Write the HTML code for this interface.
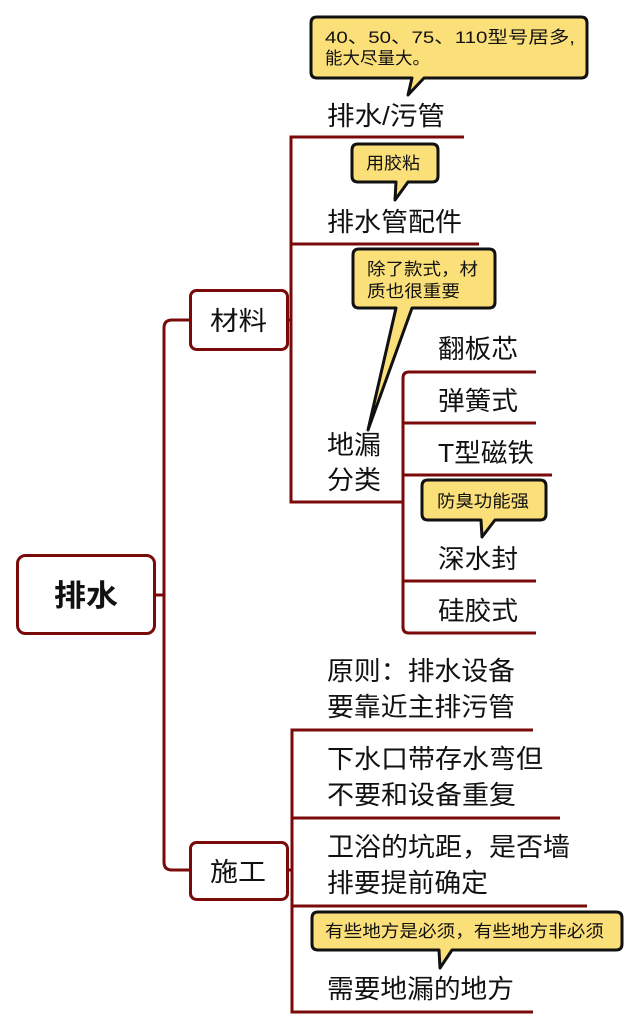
<!DOCTYPE html>
<html><head><meta charset="utf-8"><style>
body{margin:0;background:#fff}
svg{display:block}
text{font-family:"Liberation Sans","Noto Sans CJK SC",sans-serif;fill:#111}
</style></head><body>
<svg width="639" height="1029" viewBox="0 0 639 1029" xmlns="http://www.w3.org/2000/svg">
<g fill="none" stroke="#7a0a0a" stroke-width="3">
<path d="M155 595 H164"/>
<path d="M190 320 H172 Q164 320 164 328 V862 Q164 870 172 870 H190"/>
<path d="M288 320 H291"/>
<path d="M464 137 H291 V502 H403"/>
<path d="M291 244 H479"/>
<path d="M536 372 H409 Q403 372 403 378 V627 Q403 633 409 633 H536"/>
<path d="M403 423 H536"/>
<path d="M403 475 H552"/>
<path d="M403 581 H536"/>
<path d="M288 870 H292"/>
<path d="M533 730 H292 V1012 H533"/>
<path d="M292 818 H560"/>
<path d="M292 906 H587"/>
</g>
<rect x="17.5" y="555.5" width="137" height="78" rx="8" fill="#fff" stroke="#7a0a0a" stroke-width="3"/>
<text x="54" y="606" font-size="30" font-weight="bold" textLength="64" lengthAdjust="spacingAndGlyphs">排水</text>
<rect x="190.5" y="290.5" width="97" height="59" rx="6" fill="#fff" stroke="#7a0a0a" stroke-width="3"/>
<text x="210" y="330" font-size="26" textLength="57" lengthAdjust="spacingAndGlyphs">材料</text>
<rect x="190.5" y="842.5" width="97" height="57" rx="6" fill="#fff" stroke="#7a0a0a" stroke-width="3"/>
<text x="210" y="881" font-size="26" textLength="56" lengthAdjust="spacingAndGlyphs">施工</text>
<g font-size="26">
<text x="327" y="125" textLength="118" lengthAdjust="spacingAndGlyphs">排水/污管</text>
<text x="327" y="231" textLength="135" lengthAdjust="spacingAndGlyphs">排水管配件</text>
<text x="327" y="454" textLength="54" lengthAdjust="spacingAndGlyphs">地漏</text>
<text x="327" y="489" textLength="54" lengthAdjust="spacingAndGlyphs">分类</text>
<text x="438" y="358" textLength="80" lengthAdjust="spacingAndGlyphs">翻板芯</text>
<text x="438" y="410" textLength="80" lengthAdjust="spacingAndGlyphs">弹簧式</text>
<text x="438" y="462" textLength="96" lengthAdjust="spacingAndGlyphs">T型磁铁</text>
<text x="438" y="568" textLength="80" lengthAdjust="spacingAndGlyphs">深水封</text>
<text x="438" y="620" textLength="80" lengthAdjust="spacingAndGlyphs">硅胶式</text>
<text x="327" y="680" textLength="188" lengthAdjust="spacingAndGlyphs">原则：排水设备</text>
<text x="327" y="716" textLength="188" lengthAdjust="spacingAndGlyphs">要靠近主排污管</text>
<text x="327" y="768" textLength="216" lengthAdjust="spacingAndGlyphs">下水口带存水弯但</text>
<text x="327" y="804" textLength="189" lengthAdjust="spacingAndGlyphs">不要和设备重复</text>
<text x="327" y="856" textLength="243" lengthAdjust="spacingAndGlyphs">卫浴的坑距，是否墙</text>
<text x="327" y="892" textLength="161" lengthAdjust="spacingAndGlyphs">排要提前确定</text>
<text x="327" y="998" textLength="187" lengthAdjust="spacingAndGlyphs">需要地漏的地方</text>
</g>
<g fill="#fbe07a" stroke="#111" stroke-width="3" stroke-linejoin="round">
<path d="M317 17 H581 Q587 17 587 23 V72 Q587 78 581 78 H424 L408 95 L412 78 H317 Q311 78 311 72 V23 Q311 17 317 17 Z"/>
<path d="M358 144 H432 Q438 144 438 150 V176 Q438 182 432 182 H408 L395 200 L396 182 H358 Q352 182 352 176 V150 Q352 144 358 144 Z"/>
<path d="M359 249 H489 Q495 249 495 255 V302 Q495 308 489 308 H412 L368 430 L396 308 H359 Q353 308 353 302 V255 Q353 249 359 249 Z"/>
<path d="M428 480 H540 Q546 480 546 486 V514 Q546 520 540 520 H495 L482 537 L481 520 H428 Q422 520 422 514 V486 Q422 480 428 480 Z"/>
<path d="M318 912 H616 Q622 912 622 918 V944 Q622 950 616 950 H452 L440 968 L439 950 H318 Q312 950 312 944 V918 Q312 912 318 912 Z"/>
</g>
<g font-size="17">
<text x="325" y="43" textLength="250" lengthAdjust="spacingAndGlyphs">40、50、75、110型号居多,</text>
<text x="325" y="64" textLength="105" lengthAdjust="spacingAndGlyphs">能大尽量大。</text>
<text x="366" y="169" textLength="54" lengthAdjust="spacingAndGlyphs">用胶粘</text>
<text x="367" y="275" textLength="111" lengthAdjust="spacingAndGlyphs">除了款式，材</text>
<text x="367" y="297" textLength="93" lengthAdjust="spacingAndGlyphs">质也很重要</text>
<text x="437" y="507" textLength="92" lengthAdjust="spacingAndGlyphs">防臭功能强</text>
<text x="325" y="937" textLength="279" lengthAdjust="spacingAndGlyphs">有些地方是必须，有些地方非必须</text>
</g>
</svg>
</body></html>
